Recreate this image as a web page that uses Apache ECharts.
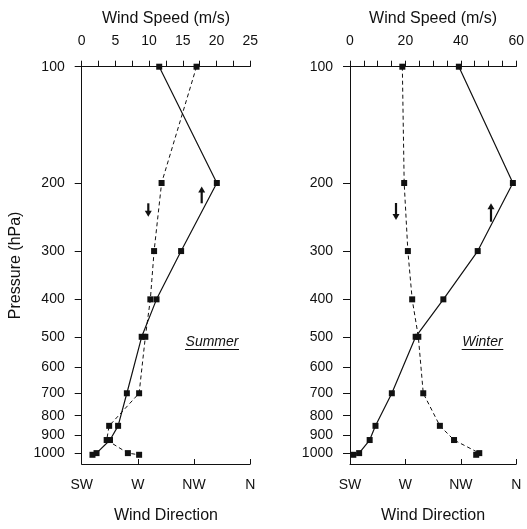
<!DOCTYPE html>
<html><head><meta charset="utf-8">
<script src="https://cdn.jsdelivr.net/npm/echarts@6/dist/echarts.min.js"></script>
<style>html,body{margin:0;padding:0;background:#fff}#c{width:527px;height:529px}</style>
</head><body><div id="c"></div>
<script>
// ---- data ----
const levels = [100, 200, 300, 400, 500, 700, 850, 925, 1000, 1010];
const summerSpeed = [11.5, 20.05, 14.75, 11.1, 8.9, 6.7, 5.4, 4.2, 2.2, 1.6];
const summerDir = [317, 289, 283, 280, 276, 271, 247, 245, 262, 271];
const winterSpeed = [39.3, 58.8, 46.1, 33.7, 23.7, 15.1, 9.2, 7.1, 3.3, 1.2];
const winterDir = [267.5, 269, 272, 275.5, 280.5, 284.5, 298, 309.5, 330, 327.5];
const pressureTicks = [100, 200, 300, 400, 500, 600, 700, 800, 900, 1000];
const dirLabels = ['SW', 'W', 'NW', 'N'];

const FONT = 'Liberation Sans, Arial, Helvetica, sans-serif';
const INK = '#111';
const chart = echarts.init(document.getElementById('c'), null, {renderer: 'canvas'});

function grid(left) { return {left: left, top: 66.7, width: 168.5, height: 401}; }
function yAx(gi, withName) {
  return {
    type: 'log', logBase: 10, gridIndex: gi, inverse: true, min: 100, max: 1067,
    name: withName ? 'Pressure (hPa)' : '', nameLocation: 'middle', nameGap: 58, nameRotate: 90,
    nameTextStyle: {fontFamily: FONT, fontSize: 16, color: INK},
    axisLine: {show: true, lineStyle: {color: INK, width: 1}},
    axisTick: {show: true, inside: false, length: 7, customValues: pressureTicks, lineStyle: {color: INK}},
    axisLabel: {show: true, customValues: pressureTicks, margin: 17, fontFamily: FONT, fontSize: 14, color: INK,
      formatter: v => String(Math.round(v))},
    splitLine: {show: false}, minorTick: {show: false}, minorSplitLine: {show: false}
  };
}
function speedAx(gi, max, interval, minorSplit) {
  return {
    type: 'value', gridIndex: gi, position: 'top', min: 0, max: max, interval: interval,
    name: 'Wind Speed (m/s)', nameLocation: 'middle', nameGap: 40,
    nameTextStyle: {fontFamily: FONT, fontSize: 16, color: INK},
    axisLine: {show: true, onZero: false, lineStyle: {color: INK, width: 1}},
    axisTick: {show: true, inside: false, length: 6, lineStyle: {color: INK}},
    minorTick: {show: true, splitNumber: minorSplit, length: 6, lineStyle: {color: INK}},
    axisLabel: {margin: 19, fontFamily: FONT, fontSize: 14, color: INK},
    splitLine: {show: false}, minorSplitLine: {show: false}
  };
}
function dirAx(gi) {
  return {
    type: 'value', gridIndex: gi, position: 'bottom', min: 225, max: 360, interval: 45,
    name: 'Wind Direction', nameLocation: 'middle', nameGap: 44,
    nameTextStyle: {fontFamily: FONT, fontSize: 16, color: INK},
    axisLine: {show: true, onZero: false, lineStyle: {color: INK, width: 1}},
    axisTick: {show: true, inside: true, length: 5, lineStyle: {color: INK}},
    axisLabel: {margin: 14, fontFamily: FONT, fontSize: 14, color: INK,
      formatter: v => dirLabels[Math.round((v - 225) / 45)] || ''},
    splitLine: {show: false}
  };
}
function line(xi, yi, xs, dashed) {
  return {
    type: 'line', xAxisIndex: xi, yAxisIndex: yi,
    data: levels.map((p, i) => [xs[i], p]),
    symbol: 'rect', symbolSize: 6, showSymbol: true,
    lineStyle: {color: INK, width: dashed ? 1 : 1.2, type: dashed ? [4, 3] : 'solid'},
    itemStyle: {color: INK}, silent: true, animation: false
  };
}
function arrow(x, y1, y2, up) {
  const head = 6, hw = 3.5;
  const shaft = up ? {x1: x, y1: y1 + head - 1, x2: x, y2: y2} : {x1: x, y1: y1, x2: x, y2: y2 - head + 1};
  const pts = up ? [[x - hw, y1 + head], [x + hw, y1 + head], [x, y1]] : [[x - hw, y2 - head], [x + hw, y2 - head], [x, y2]];
  return [
    {type: 'line', shape: shaft, style: {stroke: INK, lineWidth: 2.2}, silent: true},
    {type: 'polygon', shape: {points: pts}, style: {fill: INK}, silent: true}
  ];
}
function season(text, cx, x1, x2) {
  return [
    {type: 'text', style: {text: text, x: cx, y: 341.7, align: 'center', verticalAlign: 'middle',
      fontFamily: FONT, fontSize: 14, fontStyle: 'italic', fill: INK}, silent: true},
    {type: 'line', shape: {x1: x1, y1: 349.5, x2: x2, y2: 349.5}, style: {stroke: INK, lineWidth: 1}, silent: true}
  ];
}

chart.setOption({
  backgroundColor: '#fff',
  animation: false,
  grid: [grid(81.7), grid(350)],
  xAxis: [speedAx(0, 25, 5, 2), dirAx(0), speedAx(1, 60, 20, 4), dirAx(1)],
  yAxis: [yAx(0, true), yAx(1, false)],
  series: [
    line(0, 0, summerSpeed, false),
    line(1, 0, summerDir, true),
    line(2, 1, winterSpeed, false),
    line(3, 1, winterDir, true)
  ],
  graphic: [].concat(
    arrow(148.3, 203.3, 216.7, false),
    arrow(201.7, 186.5, 203.3, true),
    arrow(396, 203, 220, false),
    arrow(491, 203.3, 221.7, true),
    season('Summer', 212, 185, 239),
    season('Winter', 482.5, 461.7, 503.3)
  )
});
</script>
</body></html>
